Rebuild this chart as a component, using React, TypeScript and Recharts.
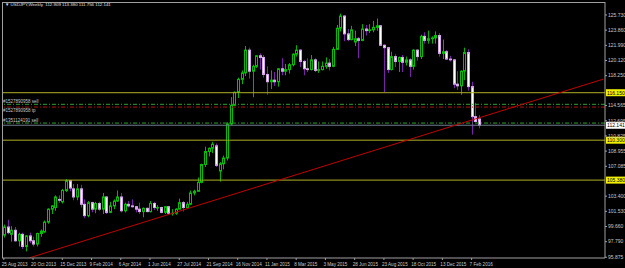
import { Bar, ComposedChart, ReferenceLine, XAxis, YAxis } from "recharts";

// weekly USDJPY candles, first week 25 Aug 2013
const OPEN = [
  98.6, 99.6, 98.7, 99.2, 97.9, 98.7, 97.2, 98.5, 97.9, 97.5, 98.8, 99.0, 100.2, 101.8, 102.0, 103.0, 102.7, 104.1, 105.3, 104.3,
  103.3, 104.3, 102.4, 101.0, 102.6, 101.8, 102.5, 101.8, 103.3, 101.4, 102.2, 102.8, 103.3, 101.6, 102.4, 102.2, 102.1, 101.8, 101.5, 101.9,
  101.5, 102.5, 102.0, 102.0, 101.4, 102.1, 101.3, 101.3, 101.8, 102.6, 102.0, 102.4, 103.8, 104.0, 105.1, 107.3, 108.9, 109.3, 109.6, 106.5,
  107.4, 108.1, 112.3, 114.6, 116.2, 117.8, 118.6, 121.4, 118.8, 119.4, 120.7, 120.5, 118.4, 117.5, 117.7, 117.5, 119.1, 118.8, 119.0, 119.6,
  120.9, 121.4, 120.0, 119.1, 119.0, 120.2, 118.9, 119.0, 119.4, 119.8, 119.4, 121.5, 124.1, 125.6, 123.4, 122.7, 122.4, 122.8, 122.6, 124.0,
  123.8, 123.9, 124.2, 124.4, 122.0, 121.7, 119.0, 120.6, 120.0, 120.5, 119.9, 120.2, 119.4, 121.4, 120.6, 123.1, 122.6, 122.8, 122.9, 123.2,
  121.0, 121.2, 120.3, 120.2, 117.2, 117.0, 118.8, 121.1, 116.9, 113.2, 112.909,
];
const HIGH = [
  99.9, 100.5, 99.7, 99.6, 98.9, 98.9, 98.6, 98.9, 98.4, 98.9, 99.3, 100.4, 101.9, 102.3, 103.5, 103.5, 104.3, 105.5, 105.4, 104.9,
  104.9, 104.8, 103.0, 102.8, 102.7, 102.7, 102.7, 103.8, 103.4, 102.7, 103.0, 104.1, 103.8, 102.6, 102.8, 103.0, 102.2, 102.6, 102.0, 102.0,
  102.8, 102.7, 102.3, 102.1, 102.2, 102.1, 101.8, 101.9, 103.1, 102.8, 102.7, 104.1, 104.2, 105.7, 107.4, 109.5, 109.4, 110.1, 109.9, 107.6,
  108.4, 112.5, 115.6, 116.3, 118.0, 118.9, 121.9, 121.7, 119.6, 120.8, 121.0, 120.8, 119.4, 118.9, 118.7, 119.2, 120.4, 119.7, 119.8, 121.0,
  122.0, 121.5, 120.2, 120.4, 120.8, 120.4, 120.0, 120.0, 120.5, 120.3, 121.8, 124.5, 125.9, 125.7, 124.0, 124.4, 123.8, 123.0, 124.6, 124.5,
  124.6, 125.0, 125.3, 124.5, 122.1, 121.8, 121.2, 120.9, 120.6, 120.8, 120.6, 120.4, 121.5, 121.5, 123.3, 123.6, 123.8, 123.1, 123.7, 123.5,
  122.7, 121.4, 120.7, 120.3, 118.8, 118.9, 121.7, 121.5, 117.5, 114.9, 113.38,
];
const LOW = [
  98.3, 98.7, 97.8, 97.8, 97.2, 96.9, 96.6, 97.6, 97.2, 97.2, 98.4, 98.9, 100.0, 101.2, 101.6, 102.6, 102.5, 103.9, 104.0, 102.9,
  102.9, 102.0, 100.7, 100.8, 101.4, 101.3, 101.6, 101.2, 101.2, 101.3, 101.8, 102.7, 101.4, 101.4, 102.0, 102.0, 101.4, 101.2, 100.8, 101.4,
  101.4, 101.7, 101.6, 101.3, 101.2, 101.1, 101.0, 101.1, 101.8, 101.5, 101.9, 102.3, 103.5, 104.0, 105.0, 107.0, 108.3, 108.7, 107.0, 105.2,
  106.7, 107.8, 112.2, 114.6, 115.5, 117.2, 118.2, 117.9, 115.6, 119.2, 119.0, 118.0, 115.9, 116.6, 117.0, 116.9, 118.3, 118.3, 118.5, 119.4,
  120.6, 119.3, 118.3, 118.7, 118.9, 118.7, 118.6, 118.9, 119.1, 118.9, 119.3, 121.4, 123.7, 122.5, 122.5, 122.6, 121.9, 120.4, 122.5, 123.2,
  123.5, 123.6, 123.8, 121.9, 116.2, 118.6, 118.9, 119.3, 118.7, 118.7, 119.5, 118.1, 119.0, 120.1, 120.3, 122.2, 122.2, 122.2, 122.2, 120.6,
  120.3, 120.2, 120.0, 116.7, 116.5, 115.9, 117.7, 116.4, 110.98, 112.5, 111.756,
];
const CLOSE = [
  99.6, 98.9, 99.2, 97.9, 98.7, 97.2, 98.5, 97.9, 97.5, 98.8, 99.1, 100.2, 101.8, 102.2, 103.3, 102.9, 104.1, 105.3, 104.4, 103.3,
  104.3, 102.4, 101.0, 102.6, 101.8, 102.5, 101.8, 103.3, 101.4, 102.2, 102.8, 103.3, 101.6, 102.4, 102.2, 102.1, 101.8, 101.5, 101.9, 101.5,
  102.5, 102.0, 102.0, 101.4, 102.1, 101.3, 101.3, 101.8, 102.6, 102.0, 102.4, 103.8, 104.0, 105.1, 107.3, 108.9, 109.3, 109.8, 107.2, 107.4,
  108.1, 112.3, 114.6, 116.2, 117.8, 118.6, 121.4, 118.8, 119.4, 120.7, 120.5, 118.4, 117.5, 117.7, 117.5, 119.1, 118.8, 119.0, 119.6, 120.9,
  121.4, 120.0, 119.1, 119.0, 120.2, 118.9, 119.0, 119.4, 119.8, 119.4, 121.5, 124.1, 125.6, 123.4, 122.7, 123.9, 122.8, 122.6, 124.0, 123.8,
  123.9, 124.2, 124.4, 122.0, 121.7, 119.0, 120.6, 120.0, 120.5, 119.9, 120.2, 119.4, 121.4, 120.6, 123.1, 122.6, 122.8, 122.9, 123.2, 121.0,
  121.2, 120.3, 120.2, 117.2, 117.0, 118.8, 121.1, 116.9, 113.2, 112.6, 112.141,
];

const X_TICKS = [
  "25 Aug 2013", "20 Oct 2013", "15 Dec 2013", "9 Feb 2014", "6 Apr 2014", "1 Jun 2014", "27 Jul 2014", "21 Sep 2014", "16 Nov 2014",
  "11 Jan 2015", "8 Mar 2015", "3 May 2015", "28 Jun 2015", "23 Aug 2015", "18 Oct 2015", "13 Dec 2015", "7 Feb 2016",
];
const Y_TICKS = [125.73, 123.86, 121.99, 120.12, 118.25, 114.565, 112.695, 110.825, 108.955, 107.085, 103.4, 101.53, 99.66, 97.79, 95.875];

const LEVELS = [116.15, 110.3, 105.38];
const LEVEL_LABELS = ["116.150", "110.300", "105.380"];
const LAST_PRICE = 112.141;
const SELL_ENTRY = 114.72;
const TAKE_PROFIT = 114.38;
const SELL_ENTRY_2 = 112.41;
const TREND = [
  { bar: 7, price: 95.8 },
  { bar: 164, price: 117.82 },
];

const TOTAL_BARS = 165;
const MONTHS = ["Jan", "Feb", "Mar", "Apr", "May", "Jun", "Jul", "Aug", "Sep", "Oct", "Nov", "Dec"];
const START = Date.UTC(2013, 7, 25);

const data = Array.from({ length: TOTAL_BARS }, (_, i) => {
  const d = new Date(START + i * 7 * 86400000);
  const date = `${d.getUTCDate()} ${MONTHS[d.getUTCMonth()]} ${d.getUTCFullYear()}`;
  if (i >= OPEN.length) return { date, range: null };
  return { date, open: OPEN[i], high: HIGH[i], low: LOW[i], close: CLOSE[i], range: [LOW[i], HIGH[i]] };
});

const FONT = "'Liberation Sans', Arial, sans-serif";

function Candle(props: any) {
  const { x, y, width, height, payload } = props;
  if (!payload || payload.open == null) return null;
  const { open, high, low, close } = payload;
  const top = height >= 0 ? y : y + height;
  const h = Math.abs(height);
  const toY = (v: number) => top + ((high - v) / (high - low || 1)) * h;
  const cx = Math.round(x + width / 2) + 0.5;
  const up = close >= open;
  const bTop = toY(Math.max(open, close));
  const bBot = toY(Math.min(open, close));
  return (
    <g>
      <line x1={cx} x2={cx} y1={top} y2={top + h} stroke={up ? "#00b000" : "#7a22a8"} strokeWidth={1} />
      <rect
        x={cx - 1}
        y={bTop}
        width={2}
        height={Math.max(bBot - bTop, 0.5)}
        fill={up ? "#000000" : "#ffffff"}
        stroke={up ? "#00c000" : "#d9a6ee"}
        strokeWidth={1}
      />
    </g>
  );
}

const XTick = (props: any) => {
  const { x, y, payload } = props;
  return (
    <text x={x - 2} y={y + 4} fontSize={4.6} fill="#c8c8c8" fontFamily={FONT} textAnchor="start">
      {payload.value}
    </text>
  );
};

const priceTag = (text: string, bg: string) => (props: any) => {
  const vb = props.viewBox;
  const x = vb.x + vb.width + 1;
  return (
    <g>
      <rect x={x} y={vb.y - 3.5} width={19} height={7} fill={bg} />
      <text x={x + 1} y={vb.y + 2} fontSize={5} fill="#000" fontFamily={FONT}>
        {text}
      </text>
    </g>
  );
};

// order labels: above the line, or below it when below=true
const orderTag = (text: string, below = false) => (props: any) => {
  const vb = props.viewBox;
  return (
    <text x={vb.x + 1} y={below ? vb.y + 5 : vb.y - 1} fontSize={4.5} fill="#c8c8c8" fontFamily={FONT}>
      {text}
    </text>
  );
};

export default function App() {
  return (
    <div style={{ position: "absolute", left: 0, top: 0, width: 625, height: 268, background: "#000" }}>
      <ComposedChart width={625} height={268} data={data} margin={{ top: 2, right: 0, left: 2, bottom: 0 }} barCategoryGap={0}>
        <XAxis
          dataKey="date"
          ticks={X_TICKS}
          interval={0}
          height={10}
          tickSize={2}
          tick={<XTick />}
          axisLine={{ stroke: "#a0a0a0" }}
          tickLine={{ stroke: "#a0a0a0" }}
        />
        <YAxis
          orientation="right"
          width={20}
          domain={[95.78, 127.33]}
          ticks={Y_TICKS}
          tickFormatter={(v: number) => v.toFixed(3)}
          tickSize={2}
          tickMargin={1}
          tick={{ fontSize: 5, fill: "#c8c8c8", fontFamily: FONT }}
          axisLine={{ stroke: "#a0a0a0" }}
          tickLine={{ stroke: "#a0a0a0" }}
        />
        {LEVELS.map((v, i) => (
          <ReferenceLine key={v} y={v} stroke="#b0b024" label={priceTag(LEVEL_LABELS[i], "#f0f000")} />
        ))}
        <ReferenceLine y={SELL_ENTRY} stroke="#2ca02c" strokeDasharray="4 2 1 2" label={orderTag("#1527890958 sell")} />
        <ReferenceLine y={TAKE_PROFIT} stroke="#b01010" strokeDasharray="4 2 1 2" label={orderTag("#1527890958 tp", true)} />
        <ReferenceLine y={SELL_ENTRY_2} stroke="#2ca02c" strokeDasharray="4 2 1 2" label={orderTag("#1351124191 sell")} />
        <ReferenceLine y={LAST_PRICE} stroke="#6f7f8f" label={priceTag(LAST_PRICE.toFixed(3), "#ffffff")} />
        <Bar dataKey="range" isAnimationActive={false} shape={(p: any) => <Candle {...p} />} />
        <ReferenceLine
          segment={TREND.map((t) => ({ x: data[t.bar].date, y: t.price }))}
          stroke="#c00000"
          strokeWidth={1}
        />
      </ComposedChart>
      <div
        style={{
          position: "absolute",
          left: 2,
          top: 2,
          width: 603,
          height: 256,
          borderLeft: "1px solid #a0a0a0",
          borderTop: "1px solid #a0a0a0",
          boxSizing: "border-box",
          pointerEvents: "none",
        }}
      />
      <div
        style={{
          position: "absolute",
          left: 5,
          top: 2,
          fontSize: 4.4,
          color: "#e0e0e0",
          fontFamily: FONT,
          whiteSpace: "pre",
          lineHeight: "6px",
        }}
      >
        {"▼ USDJPY,Weekly  112.909 113.380 111.756 112.141"}
      </div>
    </div>
  );
}
